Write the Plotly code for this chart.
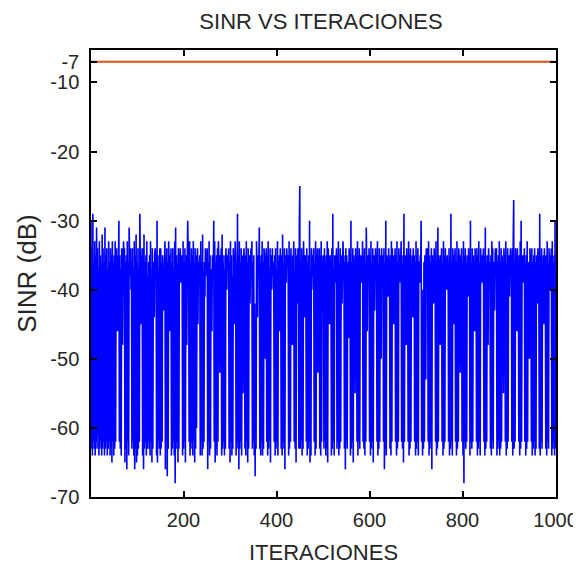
import plotly.graph_objects as go

# SINR (dB) per iteration (1000 iterations)
sinr = [
    -30,-63,-34,-64,-29,-62,-36,-63,-33,-64,-35,-62,-31,-63,-34,-61,-37,-64,-33,-63,-35,-62,-36,-64,-32,
    -63,-34,-62,-36,-64,-31,-63,-35,-62,-34,-64,-37,-63,-33,-62,-36,-64,-34,-63,-35,-65,-33,-62,-36,-64,
    -35,-63,-33,-62,-36,-34,-38,-46,-35,-37,-30,-62,-35,-63,-37,-64,-34,-36,-48,-37,-33,-36,-34,-65,-36,
    -63,-35,-66,-33,-62,-36,-64,-31,-35,-38,-34,-40,-36,-63,-34,-62,-37,-64,-33,-66,-35,-63,-32,-65,-36,
    -64,-34,-63,-37,-62,-29,-36,-45,-35,-39,-34,-64,-34,-66,-32,-63,-36,-62,-35,-64,-33,-63,-38,-62,-36,
    -63,-35,-64,-33,-62,-37,-65,-34,-63,-36,-38,-44,-35,-34,-37,-36,-64,-30,-65,-35,-62,-37,-63,-34,-64,
    -34,-63,-36,-62,-35,-40,-37,-43,-36,-33,-66,-35,-62,-34,-67,-36,-63,-33,-37,-46,-35,-39,-34,-64,-36,
    -63,-34,-62,-37,-64,-33,-68,-31,-63,-35,-62,-36,-65,-34,-63,-37,-36,-34,-39,-35,-38,-35,-64,-33,-63,
    -36,-62,-34,-65,-37,-35,-48,-36,-30,-36,-35,-62,-33,-64,-36,-63,-34,-62,-35,-64,-33,-62,-36,-65,-34,
    -63,-35,-60,-37,-34,-45,-36,-38,-36,-35,-64,-33,-62,-36,-64,-32,-63,-37,-62,-36,-41,-34,-38,-35,-37,
    -34,-66,-36,-62,-33,-64,-35,-63,-37,-39,-46,-35,-36,-38,-30,-62,-33,-65,-36,-63,-35,-64,-34,-62,-33,
    -36,-37,-52,-35,-38,-34,-64,-32,-63,-36,-62,-35,-64,-37,-63,-34,-36,-40,-35,-37,-36,-34,-63,-36,-65,
    -33,-62,-35,-64,-38,-63,-34,-37,-36,-45,-33,-35,-64,-36,-63,-29,-62,-35,-66,-33,-63,-36,-62,-34,-64,
    -35,-39,-55,-36,-34,-37,-63,-35,-64,-33,-62,-36,-65,-34,-63,-35,-38,-42,-36,-34,-37,-33,-63,-36,-62,
    -35,-64,-42,-67,-44,-63,-33,-37,-44,-35,-38,-36,-31,-63,-36,-64,-35,-62,-33,-64,-36,-63,-34,-35,-38,
    -50,-36,-34,-62,-35,-64,-33,-63,-37,-62,-34,-65,-35,-36,-40,-34,-38,-37,-36,-62,-35,-64,-34,-63,-37,
    -62,-33,-64,-36,-38,-35,-46,-34,-37,-63,-35,-64,-32,-62,-36,-63,-34,-66,-35,-37,-39,-34,-36,-35,-36,
    -64,-33,-63,-35,-62,-34,-38,-36,-48,-35,-37,-33,-62,-37,-63,-34,-65,-36,-35,-42,-34,-37,-63,-31,-25,
    -63,-36,-62,-34,-64,-35,-63,-33,-36,-39,-44,-35,-37,-62,-34,-64,-36,-63,-35,-62,-30,-65,-37,-64,-34,
    -40,-35,-38,-36,-34,-62,-36,-64,-33,-63,-35,-37,-34,-52,-36,-37,-34,-63,-35,-64,-33,-62,-36,-38,-35,
    -37,-63,-34,-62,-36,-64,-35,-63,-33,-65,-34,-36,-38,-45,-35,-37,-36,-64,-34,-63,-29,-62,-37,-64,-35,
    -36,-39,-36,-34,-63,-35,-62,-33,-64,-36,-63,-34,-62,-35,-37,-42,-36,-33,-38,-35,-63,-36,-66,-34,-62,
    -35,-63,-37,-36,-47,-34,-36,-35,-64,-30,-63,-36,-62,-34,-65,-35,-38,-36,-55,-34,-37,-36,-62,-33,-64,
    -35,-62,-34,-63,-36,-35,-39,-37,-38,-33,-62,-35,-63,-34,-64,-36,-62,-31,-37,-46,-35,-36,-37,-34,-62,
    -35,-64,-33,-63,-36,-62,-34,-65,-35,-38,-43,-36,-34,-37,-35,-62,-33,-64,-36,-63,-34,-62,-35,-36,-50,
    -34,-37,-36,-35,-62,-34,-66,-36,-63,-30,-64,-35,-37,-36,-41,-34,-38,-36,-63,-35,-64,-33,-62,-34,-38,
    -35,-45,-36,-37,-34,-62,-35,-64,-33,-63,-36,-62,-34,-37,-39,-35,-36,-33,-62,-36,-63,-35,-65,-29,-62,
    -36,-35,-40,-48,-34,-37,-36,-62,-33,-64,-35,-63,-34,-62,-36,-38,-35,-44,-34,-36,-35,-62,-36,-64,-33,
    -63,-35,-62,-34,-64,-36,-36,-39,-35,-37,-30,-62,-43,-64,-40,-63,-36,-62,-35,-37,-53,-34,-36,-38,-34,
    -62,-33,-64,-35,-63,-36,-62,-34,-66,-35,-38,-36,-42,-34,-36,-35,-62,-33,-64,-36,-63,-31,-62,-35,-37,
    -36,-48,-35,-37,-34,-62,-36,-64,-33,-63,-35,-62,-34,-39,-36,-40,-35,-38,-36,-62,-34,-64,-35,-63,-29,
    -62,-36,-64,-34,-37,-45,-35,-36,-34,-62,-36,-64,-33,-63,-35,-62,-34,-36,-38,-52,-35,-36,-34,-62,-36,
    -64,-33,-68,-35,-62,-34,-63,-36,-62,-35,-37,-41,-34,-38,-35,-64,-30,-62,-36,-63,-34,-62,-35,-38,-36,
    -46,-34,-37,-36,-62,-34,-64,-35,-63,-33,-62,-36,-64,-34,-37,-35,-39,-36,-36,-34,-62,-35,-64,-31,-63,
    -36,-62,-35,-38,-48,-34,-36,-37,-36,-63,-35,-64,-33,-62,-34,-63,-36,-37,-43,-35,-34,-38,-34,-64,-36,
    -63,-35,-62,-33,-64,-36,-63,-34,-62,-35,-37,-36,-55,-34,-38,-35,-62,-33,-64,-36,-63,-34,-62,-35,-38,
    -41,-36,-34,-37,-35,-62,-34,-64,-33,-27,-63,-36,-62,-34,-37,-35,-46,-34,-38,-36,-62,-35,-64,-33,-63,
    -30,-62,-36,-35,-39,-35,-37,-34,-62,-36,-64,-35,-63,-33,-62,-36,-38,-36,-50,-34,-36,-35,-62,-34,-64,
    -36,-63,-35,-62,-34,-64,-36,-63,-35,-37,-42,-34,-37,-36,-63,-29,-64,-35,-62,-34,-63,-36,-38,-35,-45,
    -34,-37,-36,-63,-35,-64,-33,-62,-36,-63,-34,-36,-40,-35,-37,-34,-64,-33,-63,-36,-62,-35,-64,-30,-63,
]
iterations = list(range(1, len(sinr) + 1))

# Reference (target) SINR level, constant line
target_level = -7

title_text = "SINR VS ITERACIONES"
x_label = "ITERACIONES"
y_label = "SINR (dB)"
x_tickvals = [200, 400, 600, 800, 1000]
y_tickvals = [-7, -10, -20, -30, -40, -50, -60, -70]
y_ticktext = ["-7", "-10", "-20", "-30", "-40", "-50", "-60", "-70"]

FONT = "Liberation Sans, Arial, sans-serif"
TXT = "#262626"

# the page body adds an 8 px margin, so the figure is 8 px smaller than the window
W, H = 573, 557

fig = go.Figure()
fig.add_trace(go.Scatter(
    x=iterations, y=sinr, mode="lines",
    line=dict(color="#0000FF", width=1.6, simplify=False),
    showlegend=False, hoverinfo="skip",
))
fig.add_trace(go.Scatter(
    x=[iterations[0], iterations[-1]], y=[target_level, target_level], mode="lines",
    line=dict(color="#D95319", width=1.8),
    showlegend=False, hoverinfo="skip",
))

fig.update_layout(
    width=W, height=H,
    margin=dict(l=83, r=25, t=42, b=68, autoexpand=False),
    paper_bgcolor="white", plot_bgcolor="white",
    font=dict(family=FONT, color=TXT, size=20),
    title=dict(text=title_text, x=313 / W, xanchor="center",
               y=1 - 13 / H, yanchor="middle", yref="container",
               font=dict(family=FONT, size=22, color=TXT)),
)
fig.update_xaxes(
    range=[1, 1001], tickvals=x_tickvals,
    showline=True, linecolor="black", linewidth=1.5, mirror="ticks",
    ticks="inside", ticklen=6, tickcolor="black", tickwidth=1.5,
    showgrid=False, zeroline=False, automargin=False,
    ticklabelstandoff=4,
    tickfont=dict(size=20, family=FONT, color=TXT),
    title=dict(text=x_label, font=dict(size=22, family=FONT, color=TXT), standoff=15),
)
fig.update_yaxes(
    range=[-70, -5.3], tickvals=y_tickvals, ticktext=y_ticktext,
    showline=True, linecolor="black", linewidth=1.5, mirror="ticks",
    ticks="inside", ticklen=6, tickcolor="black", tickwidth=1.5,
    showgrid=False, zeroline=False, automargin=False,
    ticklabelstandoff=6,
    tickfont=dict(size=20, family=FONT, color=TXT),
    title=dict(text=y_label, font=dict(size=26, family=FONT, color=TXT), standoff=6),
)

fig.write_html("out.html")
